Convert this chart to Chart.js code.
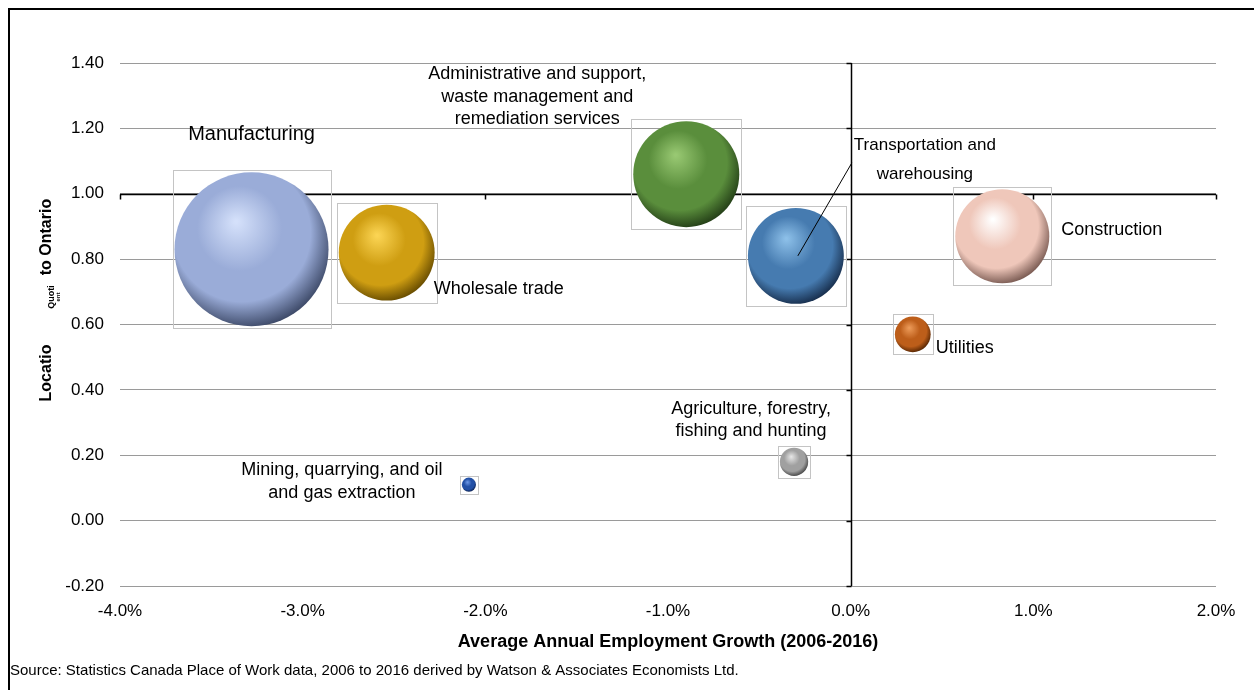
<!DOCTYPE html>
<html>
<head>
<meta charset="utf-8">
<title>Location Quotient vs Employment Growth</title>
<script src="https://cdn.jsdelivr.net/npm/chart.js@4.4.0/dist/chart.umd.min.js"></script>
<style>
  html, body { margin: 0; padding: 0; background: #fff; }
  #wrap { position: relative; width: 1254px; height: 690px; overflow: hidden; }
  canvas { display: block; }
</style>
</head>
<body>
<div id="wrap"><canvas id="lqChart" width="1254" height="690"></canvas></div>
<script>
const FONT = "'Liberation Sans', Arial, sans-serif";

// Sectors, growth (% per year), location quotient and bubble size (employment, relative)
const categories = [
    ['Manufacturing'],
    ['Wholesale trade'],
    ['Administrative and support,', 'waste management and', 'remediation services'],
    ['Transportation and', 'warehousing'],
    ['Construction'],
    ['Utilities'],
    ['Agriculture, forestry,', 'fishing and hunting'],
    ['Mining, quarrying, and oil', 'and gas extraction']
];
const growth = [-3.28, -2.54, -0.90, -0.30, 0.83, 0.34, -0.31, -2.09];
const locationQuotient = [0.83, 0.82, 1.06, 0.81, 0.87, 0.57, 0.18, 0.11];
const bubbleSize = [59.3, 23.0, 28.1, 23.0, 22.1, 3.2, 2.0, 0.5];

// sphere colours: highlight, body, shadow
const sphereColors = [
    ['#d4e0fa', '#9aacd8', '#3a4664'],
    ['#fbd453', '#cf9e12', '#654a00'],
    ['#98c872', '#5a8e3c', '#223c16'],
    ['#8cbfe8', '#467bb0', '#162c4a'],
    ['#ffffff', '#efc7ba', '#76574f'],
    ['#ec9a58', '#bd5e1a', '#532402'],
    ['#e4e4e4', '#a0a0a0', '#444444'],
    ['#6a96e6', '#2250a6', '#0b1e4c']
];

// label placement relative to the bubble centre (px)
const labelLayout = [
    {dx: 0, dy: -115, align: 'center', size: 20, gap: 22},
    {dx: 47, dy: 36, align: 'left', size: 18, gap: 22},
    {dx: -149, dy: -100, align: 'center', size: 18, gap: 22.5},
    {dx: 129, dy: -111, align: 'center', size: 17, gap: 29},
    {dx: 59, dy: -6, align: 'left', size: 18, gap: 22},
    {dx: 23, dy: 14, align: 'left', size: 18, gap: 22},
    {dx: -43, dy: -53, align: 'center', size: 18, gap: 22},
    {dx: -127, dy: -15, align: 'center', size: 18, gap: 23}
];
const leaderFrom = {index: 3, dx: 56, dy: -93};

const radiusScale = 10;
const bubbles = growth.map((g, i) => ({
    x: g, y: locationQuotient[i], r: Math.sqrt(bubbleSize[i]) * radiusScale
}));

function sphereFill(ctx) {
    const chart = ctx.chart;
    const cols = sphereColors[ctx.dataIndex % sphereColors.length];
    if (ctx.type !== 'data' || !chart.chartArea) return cols[1];
    const cx = chart.scales.x.getPixelForValue(ctx.raw.x);
    const cy = chart.scales.y.getPixelForValue(ctx.raw.y);
    const r = ctx.raw.r;
    const g = chart.ctx.createRadialGradient(cx - 0.2 * r, cy - 0.36 * r, r * 0.02,
                                             cx - 0.1 * r, cy - 0.16 * r, r * 1.2);
    g.addColorStop(0, cols[0]);
    g.addColorStop(0.45, cols[1]);
    g.addColorStop(0.74, cols[1]);
    g.addColorStop(1, cols[2]);
    return g;
}

const pageFrame = {
    id: 'pageFrame',
    beforeDraw(chart) {
        const c = chart.ctx;
        c.save();
        c.fillStyle = '#fff';
        c.fillRect(0, 0, chart.width, chart.height);
        c.strokeStyle = '#000';
        c.lineWidth = 2;
        c.strokeRect(9, 9, chart.width + 20, chart.height + 20);
        c.restore();
    },
    afterDraw(chart) {
        const c = chart.ctx;
        c.save();
        c.fillStyle = '#000';
        c.font = '15px ' + FONT;
        c.textBaseline = 'middle';
        c.fillText('Source: Statistics Canada Place of Work data, 2006 to 2016 derived by Watson & Associates Economists Ltd.', 10, 671);

        // y axis title, split like the original sheet
        c.font = 'bold 16px ' + FONT;
        c.textAlign = 'center';
        const rot = (txt, x, y) => {
            c.save(); c.translate(x, y); c.rotate(-Math.PI / 2); c.fillText(txt, 0, 0); c.restore();
        };
        rot('Locatio', 47, 373);
        rot('to Ontario', 47, 237);
        c.font = 'bold 9px ' + FONT;
        rot('Quoti', 52, 297);
        c.font = 'bold 6px ' + FONT;
        rot('ent', 58, 297);
        c.restore();
    }
};

// black cross lines at 0% growth and LQ = 1.00
const crossAxes = {
    id: 'crossAxes',
    beforeDatasetsDraw(chart) {
        const c = chart.ctx, xs = chart.scales.x, ys = chart.scales.y, a = chart.chartArea;
        const x0 = Math.round(xs.getPixelForValue(0)) + 0.5;
        const y1 = Math.round(ys.getPixelForValue(1.0)) + 0.5;
        c.save();
        c.strokeStyle = '#000';
        c.lineWidth = 1.5;
        c.beginPath();
        c.moveTo(x0, a.top); c.lineTo(x0, a.bottom);
        c.moveTo(a.left, y1); c.lineTo(a.right, y1);
        ys.ticks.forEach(t => {
            const py = Math.round(ys.getPixelForValue(t.value)) + 0.5;
            c.moveTo(x0 - 5, py); c.lineTo(x0, py);
        });
        xs.ticks.forEach(t => {
            const px = Math.round(xs.getPixelForValue(t.value)) + 0.5;
            c.moveTo(px, y1); c.lineTo(px, y1 + 5);
        });
        c.stroke();
        c.restore();
    }
};

const bubbleLabels = {
    id: 'bubbleLabels',
    afterDatasetsDraw(chart) {
        const c = chart.ctx;
        const meta = chart.getDatasetMeta(0);
        c.save();
        // thin frames around each bubble
        c.strokeStyle = '#c4c4c4';
        c.lineWidth = 1;
        meta.data.forEach((el, i) => {
            const r = bubbles[i].r + 2;
            c.strokeRect(Math.round(el.x - r) + 0.5, Math.round(el.y - r) + 0.5, Math.round(2 * r), Math.round(2 * r));
        });
        // leader line for transportation
        const le = meta.data[leaderFrom.index];
        c.strokeStyle = '#000';
        c.beginPath();
        c.moveTo(le.x + leaderFrom.dx, le.y + leaderFrom.dy);
        c.lineTo(le.x + 2, le.y);
        c.stroke();

        c.fillStyle = '#000';
        c.textBaseline = 'middle';
        meta.data.forEach((el, i) => {
            const L = labelLayout[i];
            c.font = L.size + 'px ' + FONT;
            c.textAlign = L.align;
            categories[i].forEach((line, k) => {
                c.fillText(line, el.x + L.dx, el.y + L.dy + k * L.gap);
            });
        });
        c.restore();
    }
};

new Chart(document.getElementById('lqChart'), {
    type: 'bubble',
    data: {
        datasets: [{
            data: bubbles,
            backgroundColor: sphereFill,
            borderWidth: 0
        }]
    },
    options: {
        responsive: false,
        animation: false,
        devicePixelRatio: 1,
        events: [],
        // no extra room for bubble overflow; the plot box is fixed
        layout: {autoPadding: false, padding: {top: 63, right: 38, bottom: 0, left: 0}},
        plugins: {legend: {display: false}, tooltip: {enabled: false}},
        scales: {
            x: {
                type: 'linear',
                min: -4, max: 2,
                grid: {display: false},
                border: {display: false},
                ticks: {
                    stepSize: 1,
                    padding: 7,
                    color: '#000',
                    font: {family: FONT, size: 17},
                    callback: v => v.toFixed(1) + '%'
                },
                title: {
                    display: true,
                    text: 'Average Annual Employment Growth (2006-2016)',
                    color: '#000',
                    font: {family: FONT, size: 18, weight: 'bold'},
                    padding: {top: 0, bottom: 37}
                },
                afterFit: s => { s.height = 104; }
            },
            y: {
                type: 'linear',
                min: -0.2, max: 1.4,
                grid: {color: '#9a9a9a', lineWidth: 1, drawTicks: false},
                border: {display: false},
                ticks: {
                    stepSize: 0.2,
                    padding: 16,
                    color: '#000',
                    font: {family: FONT, size: 17},
                    callback: v => (Math.abs(v) < 1e-9 ? 0 : v).toFixed(2)
                },
                afterFit: s => { s.width = 120; }
            }
        }
    },
    plugins: [pageFrame, crossAxes, bubbleLabels]
});
</script>
</body>
</html>
